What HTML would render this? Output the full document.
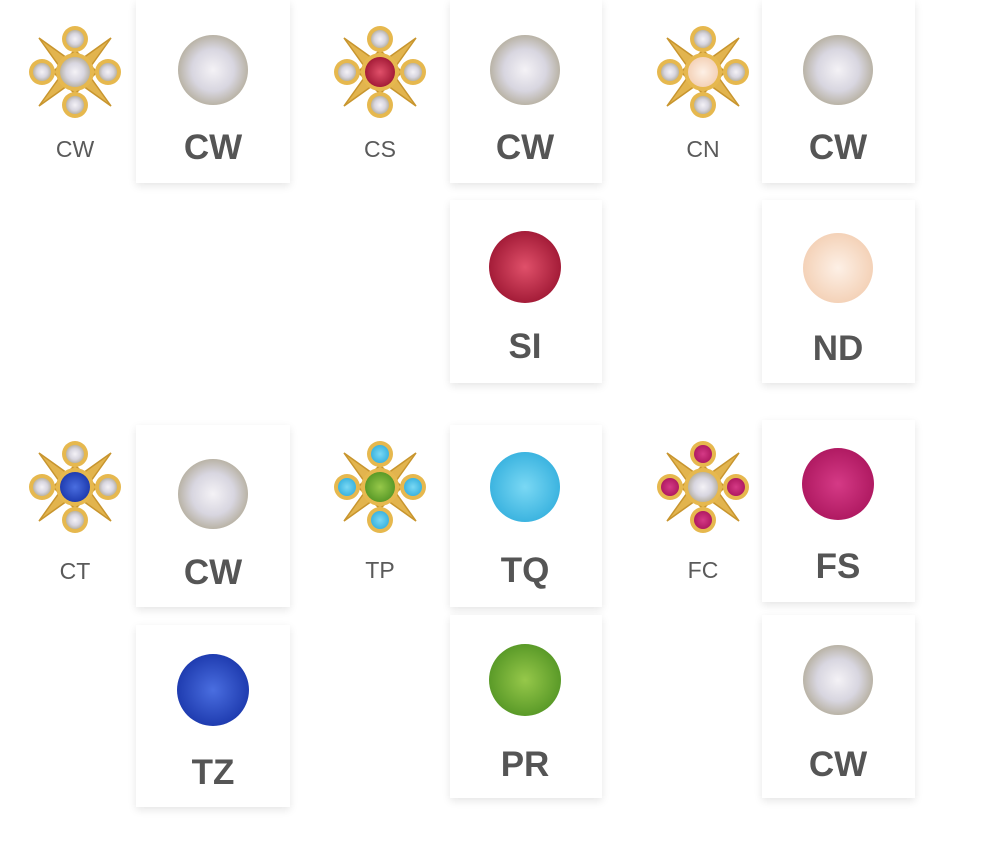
<!DOCTYPE html>
<html><head><meta charset="utf-8"><style>
body{margin:0;width:1000px;height:858px;background:#fff;position:relative;overflow:hidden;font-family:"Liberation Sans",sans-serif}
.card{position:absolute;background:#fff;box-shadow:0 3px 8px rgba(0,0,0,0.10)}
svg{position:absolute;left:0;top:0}
.s{font-size:23px;fill:#5a5a5a;text-anchor:middle}
.b{font-size:35px;fill:#555;text-anchor:middle;font-weight:bold}
</style></head><body>
<div class="card" style="left:136px;top:0;width:154px;height:183px"></div>
<div class="card" style="left:450px;top:0;width:152px;height:183px"></div>
<div class="card" style="left:762px;top:0;width:153px;height:183px"></div>
<div class="card" style="left:450px;top:200px;width:152px;height:183px"></div>
<div class="card" style="left:762px;top:200px;width:153px;height:183px"></div>
<div class="card" style="left:136px;top:425px;width:154px;height:182px"></div>
<div class="card" style="left:450px;top:425px;width:152px;height:182px"></div>
<div class="card" style="left:762px;top:420px;width:153px;height:182px"></div>
<div class="card" style="left:136px;top:625px;width:154px;height:182px"></div>
<div class="card" style="left:450px;top:615px;width:152px;height:183px"></div>
<div class="card" style="left:762px;top:615px;width:153px;height:183px"></div>
<svg width="1000" height="858" viewBox="0 0 1000 858">
<defs>
<radialGradient id="cw"><stop offset="0" stop-color="#f4f2f6"/><stop offset="0.6" stop-color="#d8d6e0"/><stop offset="1" stop-color="#b9b3a6"/></radialGradient>
<radialGradient id="si"><stop offset="0" stop-color="#e0506a"/><stop offset="1" stop-color="#a41c38"/></radialGradient>
<radialGradient id="nd"><stop offset="0" stop-color="#fdf0e6"/><stop offset="1" stop-color="#f4d2b8"/></radialGradient>
<radialGradient id="tq"><stop offset="0" stop-color="#7ad8f4"/><stop offset="1" stop-color="#3cb4e0"/></radialGradient>
<radialGradient id="fs"><stop offset="0" stop-color="#d53a86"/><stop offset="1" stop-color="#b01a62"/></radialGradient>
<radialGradient id="tz"><stop offset="0" stop-color="#4a6ee0"/><stop offset="1" stop-color="#1f3cb0"/></radialGradient>
<radialGradient id="pr"><stop offset="0" stop-color="#96c84a"/><stop offset="1" stop-color="#5a9a28"/></radialGradient>
<g id="star">
<path d="M-36,-34 L-8,-14 L0,-22 L8,-14 L36,-34 L16,-6 L22,0 L16,6 L36,34 L8,14 L0,22 L-8,14 L-36,34 L-16,6 L-22,0 L-16,-6 Z" fill="#e2b44e" stroke="#c8952e" stroke-width="1.5"/>
<circle cx="0" cy="0" r="19" fill="#e6b84e"/>
<circle cx="0" cy="-33" r="13" fill="#e6b84e"/><circle cx="0" cy="33" r="13" fill="#e6b84e"/>
<circle cx="-33" cy="0" r="13" fill="#e6b84e"/><circle cx="33" cy="0" r="13" fill="#e6b84e"/>
</g>
</defs>
<!-- stars -->
<g transform="translate(75,72)"><use href="#star"/><circle r="15" fill="url(#cw)"/><circle cy="-33" r="9" fill="url(#cw)"/><circle cy="33" r="9" fill="url(#cw)"/><circle cx="-33" r="9" fill="url(#cw)"/><circle cx="33" r="9" fill="url(#cw)"/></g>
<g transform="translate(380,72)"><use href="#star"/><circle r="15" fill="url(#si)"/><circle cy="-33" r="9" fill="url(#cw)"/><circle cy="33" r="9" fill="url(#cw)"/><circle cx="-33" r="9" fill="url(#cw)"/><circle cx="33" r="9" fill="url(#cw)"/></g>
<g transform="translate(703,72)"><use href="#star"/><circle r="15" fill="url(#nd)"/><circle cy="-33" r="9" fill="url(#cw)"/><circle cy="33" r="9" fill="url(#cw)"/><circle cx="-33" r="9" fill="url(#cw)"/><circle cx="33" r="9" fill="url(#cw)"/></g>
<g transform="translate(75,487)"><use href="#star"/><circle r="15" fill="url(#tz)"/><circle cy="-33" r="9" fill="url(#cw)"/><circle cy="33" r="9" fill="url(#cw)"/><circle cx="-33" r="9" fill="url(#cw)"/><circle cx="33" r="9" fill="url(#cw)"/></g>
<g transform="translate(380,487)"><use href="#star"/><circle r="15" fill="url(#pr)"/><circle cy="-33" r="9" fill="url(#tq)"/><circle cy="33" r="9" fill="url(#tq)"/><circle cx="-33" r="9" fill="url(#tq)"/><circle cx="33" r="9" fill="url(#tq)"/></g>
<g transform="translate(703,487)"><use href="#star"/><circle r="15" fill="url(#cw)"/><circle cy="-33" r="9" fill="url(#fs)"/><circle cy="33" r="9" fill="url(#fs)"/><circle cx="-33" r="9" fill="url(#fs)"/><circle cx="33" r="9" fill="url(#fs)"/></g>
<text class="s" x="75" y="157">CW</text>
<text class="s" x="380" y="157">CS</text>
<text class="s" x="703" y="157">CN</text>
<text class="s" x="75" y="579">CT</text>
<text class="s" x="380" y="578">TP</text>
<text class="s" x="703" y="578">FC</text>
<!-- gems -->
<circle cx="213" cy="70" r="35" fill="url(#cw)"/>
<circle cx="525" cy="70" r="35" fill="url(#cw)"/>
<circle cx="838" cy="70" r="35" fill="url(#cw)"/>
<circle cx="525" cy="267" r="36" fill="url(#si)"/>
<circle cx="838" cy="268" r="35" fill="url(#nd)"/>
<circle cx="213" cy="494" r="35" fill="url(#cw)"/>
<circle cx="525" cy="487" r="35" fill="url(#tq)"/>
<circle cx="838" cy="484" r="36" fill="url(#fs)"/>
<circle cx="213" cy="690" r="36" fill="url(#tz)"/>
<circle cx="525" cy="680" r="36" fill="url(#pr)"/>
<circle cx="838" cy="680" r="35" fill="url(#cw)"/>
<text class="b" x="213" y="159">CW</text>
<text class="b" x="525" y="159">CW</text>
<text class="b" x="838" y="159">CW</text>
<text class="b" x="525" y="358">SI</text>
<text class="b" x="838" y="360">ND</text>
<text class="b" x="213" y="584">CW</text>
<text class="b" x="525" y="582">TQ</text>
<text class="b" x="838" y="578">FS</text>
<text class="b" x="213" y="784">TZ</text>
<text class="b" x="525" y="776">PR</text>
<text class="b" x="838" y="776">CW</text>
</svg>
</body></html>
